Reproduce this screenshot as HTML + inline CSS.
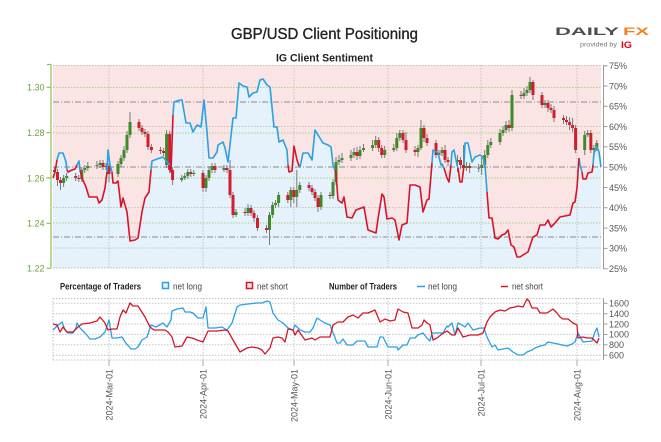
<!DOCTYPE html>
<html><head><meta charset="utf-8"><style>
html,body{margin:0;padding:0;background:#fff;}
svg{display:block;}
text{font-family:"Liberation Sans",Arial,sans-serif;}
</style></head><body>
<svg width="661" height="442" viewBox="0 0 661 442" xmlns="http://www.w3.org/2000/svg">
<rect width="661" height="442" fill="#fff"/>
<!-- titles -->
<text x="231" y="39" font-size="16" fill="#222" stroke="#222" stroke-width="0.35" textLength="187" lengthAdjust="spacingAndGlyphs">GBP/USD Client Positioning</text>
<text x="276" y="61.5" font-size="11" font-weight="bold" fill="#222" textLength="97" lengthAdjust="spacingAndGlyphs">IG Client Sentiment</text>
<!-- logo -->
<text x="555" y="35" font-size="11" font-weight="bold" fill="#4b4f54" textLength="64" lengthAdjust="spacingAndGlyphs">DAILY</text>
<text x="623" y="35" font-size="11" font-weight="bold" fill="#f58220" textLength="26" lengthAdjust="spacingAndGlyphs">FX</text>
<text x="580" y="46.5" font-size="6" fill="#777" textLength="37" lengthAdjust="spacingAndGlyphs">provided by</text>
<text x="621" y="48" font-size="9.5" font-weight="bold" fill="#e3001b" textLength="11" lengthAdjust="spacingAndGlyphs">IG</text>

<!-- main plot backgrounds -->
<rect x="53" y="65" width="548" height="203" fill="#fbe4e4"/>
<polygon fill="#e5f2fc" points="53,178 55,172 57,160 59,153 63,153 66,162 67,170 68,172 72,170 75,169 77,165 79,161 80,170 82,178 86,187 89,197 93,197 97,197 99,203 102,200 105,188 107,172 108,150 110,165 112,172 113,183 116,183 118,181 121,207 123,198 127,212 130,241 135,240 138,238 142,212 145,198 149,192 151,170 152,161 157,159 163,157 167,162 170,165 171,172 173,115 174,102 180,100 182,100 186,123 190,123 193,132 197,125 201,127 204,100 207,132 209,158 213,158 217,152 218,145 223,142 225,148 228,162 232,127 233,118 236,118 239,83 243,86 247,87 249,97 253,93 257,92 260,80 263,79 267,85 270,87 274,127 277,127 279,142 283,140 287,150 288,165 289,172 292,171 294,146 297,160 299,166 300,167 303,153 308,153 312,160 315,130 318,135 323,143 328,145 331,147 333,165 335,170 336,173 338,200 342,203 344,197 347,217 352,218 356,210 364,207 368,230 376,233 378,219 382,194 384,197 387,219 392,218 395,220 399,240 402,225 407,223 410,185 415,185 420,187 423,212 427,200 429,199 432,163 433,150 438,153 441,165 442,164 444,168 447,178 449,182 451,165 452,152 454,150 457,165 458,168 460,182 462,182 464,165 465,143 468,143 472,162 475,157 480,155 483,157 485,165 487,192 489,218 492,218 495,238 498,239 502,235 505,234 508,230 511,245 514,247 517,257 520,257 523,255 528,252 533,237 537,235 540,225 545,225 548,220 551,227 555,223 560,217 565,216 570,215 573,203 575,202 577,188 579,158 580,165 582,172 583,179 586,179 588,173 592,172 593,165 594,153 597,147 599,152 601,167 601,268 53,268"/>

<!-- main gridlines -->
<g fill="none" stroke-width="1">
<path d="M53 65.5H601M53 126.5H601M53 207.5H601M53 248H601" stroke="#c4c4c4" stroke-dasharray="1.5,1.5"/>
<path d="M53 87.5H601M53 133H601M53 178H601M53 223H601M53 268H601" stroke="#a9cf8c" stroke-dasharray="1.5,1.5"/>
<path d="M53 102H601M53 167H601M53 237H601" stroke="#8c8c8c" stroke-dasharray="6,2,1,2"/>
<path d="M109 65V268M203 65V268M294 65V268M388 65V268M481 65V268M577 65V268" stroke="#c4c4c4" stroke-dasharray="1.5,1.5"/>
</g>

<!-- candle wicks -->
<path fill="none" stroke="#7a7a7a" stroke-width="1" d="M54.5 167V175M57.5 169V186M60.5 177V190M63.6 175V187M66.6 173V181M75.7 173V181M78.8 175V182M81.8 167V182M84.8 165V173M87.8 162V171M96.9 161V169M100 160V168M103 160V170M106 163V170M109 163V182M118 161V177M121 155V167M124 146V161M127 131V153M130 112V138M139 119V131M142 125V135M145 129V137M148 131V150M151.4 144V153M160.5 147V154M163.6 148V156M166.6 130V168M169.6 131V173M172.6 167V185M181.7 175V182M184.7 173V180M187.8 169V179M190.8 169V177M193.8 170V176M203 170V192M206 175V192M209 166V181M212 163V173M215 163V173M224 165V172M227 165V173M230 160V198M233 192V218M236 209V217M245 208V216M248 204V216M251 205V216M254 210V222M257.5 215V231M266.5 225V233M269.5 212V245M272.6 202V218M275.6 200V208M278.6 192V207M287.8 192V203M290.8 187V207M293.8 187V203M296.8 170V207M299.8 182V193M309 182V191M312 185V195M315 189V201M318 195V212M321 192V210M330 192V199M333 179V199M336 157V185M339 155V165M342 153V163M351 150V161M354 148V158M357 147V160M360 146V159M363.5 144V152M372.6 140V151M375.7 136V148M378.7 137V152M381.7 145V158M384.7 146V158M393.8 144V152M396.8 133V151M399.8 130V141M403 130V143M406 132V153M415 146V156M418 145V157M421 120V150M424 125V142M427 134V146M436 140V158M439 150V158M442 147V156M445 145V163M448 157V166M457.5 155V172M460.5 157V169M463.5 145V171M466.5 162V171M469.6 163V173M478.7 164V172M481.7 157V175M484.7 150V168M487.8 140V158M490.8 138V148M500 129V145M503 126V136M506 121V133M509 120V132M512 90V131M521 91V99M524 88V99M527 86V96M530 77V93M533 80V100M542 92V108M545 100V108M548 100V112M551 104V113M554 106V122M563.5 115V124M566.5 116V125M569.6 117V130M572.6 118V132M575.6 125V153M584.7 131V155M587.7 130V137M590.8 130V153M593.8 145V157M596.8 140V151"/>
<!-- green bodies -->
<path fill="#3e8a2a" d="M62.1 178h3v5h-3zM65.1 176h3v2h-3zM80.3 170h3v9h-3zM83.3 168h3v2h-3zM86.3 166h3v2h-3zM95.4 165h3v1h-3zM98.5 163h3v2h-3zM104.5 166h3v1h-3zM116.5 164h3v10h-3zM119.5 158h3v6h-3zM122.5 150h3v8h-3zM125.5 135h3v15h-3zM128.5 122h3v13h-3zM165.1 134h3v31h-3zM180.2 178h3v2h-3zM183.2 176h3v2h-3zM186.3 172h3v4h-3zM192.3 173h3v1h-3zM204.5 178h3v10h-3zM207.5 170h3v8h-3zM210.5 166h3v4h-3zM222.5 168h3v2h-3zM234.5 212h3v3h-3zM246.5 208h3v5h-3zM268 215h3v15h-3zM271.1 205h3v10h-3zM274.1 203h3v2h-3zM277.1 195h3v8h-3zM289.3 190h3v10h-3zM295.3 190h3v7h-3zM298.3 185h3v5h-3zM319.5 195h3v12h-3zM331.5 182h3v14h-3zM334.5 162h3v20h-3zM337.5 160h3v2h-3zM340.5 158h3v2h-3zM349.5 155h3v3h-3zM352.5 152h3v3h-3zM358.5 150h3v6h-3zM362 148h3v2h-3zM371.1 145h3v3h-3zM374.2 140h3v5h-3zM383.2 150h3v5h-3zM392.3 148h3v2h-3zM395.3 138h3v10h-3zM398.3 133h3v5h-3zM416.5 148h3v4h-3zM419.5 128h3v20h-3zM437.5 153h3v2h-3zM440.5 150h3v3h-3zM456 160h3v2h-3zM465 166h3v2h-3zM480.2 165h3v3h-3zM483.2 155h3v10h-3zM486.3 145h3v10h-3zM489.3 142h3v3h-3zM498.5 133h3v9h-3zM501.5 130h3v3h-3zM504.5 125h3v5h-3zM510.5 95h3v33h-3zM522.5 93h3v3h-3zM525.5 90h3v3h-3zM528.5 82h3v8h-3zM543.5 103h3v2h-3zM583.2 135h3v15h-3zM586.2 133h3v2h-3zM592.3 148h3v2h-3zM595.3 143h3v5h-3z"/>
<rect x="477.2" y="167.5" width="3" height="1.2" fill="#777"/>
<!-- red bodies -->
<path fill="#cf1f2e" d="M53 170h3v2h-3zM56 172h3v8h-3zM59 180h3v3h-3zM74.2 176h3v2h-3zM77.3 178h3v1h-3zM101.5 163h3v4h-3zM107.5 166h3v8h-3zM137.5 122h3v6h-3zM140.5 128h3v4h-3zM143.5 132h3v2h-3zM146.5 134h3v13h-3zM149.9 147h3v3h-3zM159 150h3v1h-3zM162.1 151h3v2h-3zM168.1 134h3v36h-3zM171.1 170h3v10h-3zM189.3 172h3v2h-3zM201.5 173h3v15h-3zM213.5 166h3v4h-3zM225.5 168h3v2h-3zM228.5 170h3v25h-3zM231.5 195h3v20h-3zM243.5 212h3v1h-3zM249.5 208h3v5h-3zM252.5 213h3v5h-3zM256 218h3v10h-3zM265 228h3v2h-3zM286.3 195h3v5h-3zM292.3 190h3v7h-3zM307.5 185h3v3h-3zM310.5 188h3v4h-3zM313.5 192h3v6h-3zM316.5 198h3v9h-3zM328.5 195h3v1h-3zM355.5 152h3v4h-3zM377.2 140h3v8h-3zM380.2 148h3v7h-3zM401.5 133h3v7h-3zM404.5 140h3v10h-3zM413.5 150h3v2h-3zM422.5 128h3v10h-3zM425.5 138h3v5h-3zM434.5 143h3v12h-3zM443.5 150h3v10h-3zM446.5 160h3v2h-3zM459 160h3v5h-3zM462 165h3v3h-3zM468.1 166h3v2h-3zM507.5 125h3v3h-3zM519.5 95h3v1h-3zM531.5 82h3v13h-3zM540.5 95h3v10h-3zM546.5 103h3v5h-3zM549.5 108h3v2h-3zM552.5 110h3v8h-3zM562 118h3v2h-3zM565 120h3v2h-3zM568.1 122h3v3h-3zM571.1 125h3v3h-3zM574.1 128h3v22h-3zM589.3 133h3v17h-3z"/>

<!-- sentiment line -->
<path fill="none" stroke="#2ba0e2" stroke-width="1.6" stroke-linejoin="round" d="M57 160L59 153L63 153L66 162L67 170M77 165L79 161L80 170M107 172L108 150L110 165L112 172M151 170L152 161L157 159L163 157L167 162L170 165M173 115L174 102L180 100L182 100L186 123L190 123L193 132L197 125L201 127L204 100L207 132L209 158L213 158L217 152L218 145L223 142L225 148L228 162L232 127L233 118L236 118L239 83L243 86L247 87L249 97L253 93L257 92L260 80L263 79L267 85L270 87L274 127L277 127L279 142L283 140L287 150L288 165M299 166L300 167L303 153L308 153L312 160L315 130L318 135L323 143L328 145L331 147L333 165L335 170M432 163L433 150L438 153L441 165L442 164L444 168M451 165L452 152L454 150L457 165L458 168M464 165L465 143L468 143L472 162L475 157L480 155L483 157L485 165L487 192M579 158L580 165L582 172M593 165L594 153L597 147L599 152L601 167"/>
<path fill="none" stroke="#d6152b" stroke-width="1.6" stroke-linejoin="round" d="M53 178L55 172L57 160M67 170L68 172L72 170L75 169L77 165M80 170L82 178L86 187L89 197L93 197L97 197L99 203L102 200L105 188L107 172M112 172L113 183L116 183L118 181L121 207L123 198L127 212L130 241L135 240L138 238L142 212L145 198L149 192L151 170M170 165L171 172L173 115M288 165L289 172L292 171L294 146L297 160L299 166M335 170L336 173L338 200L342 203L344 197L347 217L352 218L356 210L364 207L368 230L376 233L378 219L382 194L384 197L387 219L392 218L395 220L399 240L402 225L407 223L410 185L415 185L420 187L423 212L427 200L429 199L432 163M444 168L447 178L449 182L451 165M458 168L460 182L462 182L464 165M487 192L489 218L492 218L495 238L498 239L502 235L505 234L508 230L511 245L514 247L517 257L520 257L523 255L528 252L533 237L537 235L540 225L545 225L548 220L551 227L555 223L560 217L565 216L570 215L573 203L575 202L577 188L579 158M582 172L583 179L586 179L588 173L592 172L593 165"/>

<!-- left axis -->
<g stroke="#8cc152" stroke-width="1.2" fill="none">
<path d="M51 64.5V268.3M47 64.5H51M46.5 87.3H51M46.5 132.7H51M46.5 178H51M46.5 223.3H51M46.5 268.3H51"/>
</g>
<g font-size="9" fill="#6aa339" text-anchor="end">
<text x="44.5" y="90.5">1.30</text>
<text x="44.5" y="136">1.28</text>
<text x="44.5" y="181.3">1.26</text>
<text x="44.5" y="226.6">1.24</text>
<text x="44.5" y="271.6">1.22</text>
</g>
<!-- right axis -->
<path fill="none" stroke="#9a9a9a" stroke-width="1" d="M603.5 65V268.7M603.5 65.7H607.5M603.5 86H607.5M603.5 106.3H607.5M603.5 126.6H607.5M603.5 146.9H607.5M603.5 167.2H607.5M603.5 187.5H607.5M603.5 207.8H607.5M603.5 228.1H607.5M603.5 248.4H607.5M603.5 268.7H607.5"/>
<g font-size="9" fill="#555">
<text x="609" y="69">75%</text>
<text x="609" y="89.3">70%</text>
<text x="609" y="109.6">65%</text>
<text x="609" y="129.9">60%</text>
<text x="609" y="150.2">55%</text>
<text x="609" y="170.5">50%</text>
<text x="609" y="190.8">45%</text>
<text x="609" y="211.1">40%</text>
<text x="609" y="231.4">35%</text>
<text x="609" y="251.7">30%</text>
<text x="609" y="272">25%</text>
</g>

<!-- legend -->
<text x="60" y="289.5" font-size="9.5" font-weight="bold" fill="#222" textLength="81" lengthAdjust="spacingAndGlyphs">Percentage of Traders</text>
<rect x="162.5" y="282.5" width="6" height="6" fill="#e5f2fc" stroke="#2ba0e2" stroke-width="1.5"/>
<text x="173" y="289.5" font-size="9.5" fill="#444" textLength="29" lengthAdjust="spacingAndGlyphs">net long</text>
<rect x="246.5" y="282.5" width="6" height="6" fill="#fbe4e4" stroke="#d6152b" stroke-width="1.5"/>
<text x="257" y="289.5" font-size="9.5" fill="#444" textLength="31" lengthAdjust="spacingAndGlyphs">net short</text>
<text x="329" y="289.5" font-size="9.5" font-weight="bold" fill="#222" textLength="68" lengthAdjust="spacingAndGlyphs">Number of Traders</text>
<path d="M417 286.5H425" stroke="#2ba0e2" stroke-width="1.5"/>
<text x="428" y="289.5" font-size="9.5" fill="#444" textLength="29" lengthAdjust="spacingAndGlyphs">net long</text>
<path d="M501 286.5H508" stroke="#d6152b" stroke-width="1.5"/>
<text x="512" y="289.5" font-size="9.5" fill="#444" textLength="31" lengthAdjust="spacingAndGlyphs">net short</text>

<!-- bottom chart grid -->
<g fill="none" stroke="#c4c4c4" stroke-width="1" stroke-dasharray="1.5,1.5">
<path d="M53 298.5H601M53 303.3H601M53 313.7H601M53 324H601M53 334.4H601M53 344.8H601M53 355.2H601M53 360H601"/>
<path d="M53 298V360M109 298V360M203 298V360M294 298V360M388 298V360M481 298V360M577 298V360"/>
</g>
<path fill="none" stroke="#2ba0e2" stroke-width="1.3" stroke-linejoin="round" d="M53 330L57 326L62 322L65 330L68 333L73 333L76 328L77 323L80 328L85 333L90 339L95 339L100 337L105 332L109 320L112 338L117 338L122 337L125 342L131 349L135 349L138 347L142 340L147 337L151 325L156 327L163 323L167 327L171 320L172 311L177 309L183 308L185 312L190 312L193 313L198 318L203 318L206 307L208 328L215 328L222 327L227 330L232 323L237 307L240 305L248 304L257 303L262 303L267 301L270 302L273 313L278 320L283 323L288 328L293 330L295 325L300 330L305 332L310 332L313 328L317 318L320 320L325 323L330 325L334 335L337 343L340 343L343 339L347 345L353 345L357 341L365 341L368 347L377 347L380 337L383 337L388 347L397 347L398 350L403 345L407 345L410 338L415 338L418 335L423 333L427 338L430 341L432 333L437 333L443 333L447 326L448 327L452 323L455 335L458 323L462 325L465 327L468 323L473 330L480 328L484 328L487 337L492 347L495 345L498 350L503 349L508 348L513 352L518 355L523 355L527 352L532 350L535 348L540 346L545 345L548 342L553 343L558 344L567 346L572 344L575 342L578 333L583 342L592 341L595 332L597 328L599 337"/>
<path fill="none" stroke="#d6152b" stroke-width="1.3" stroke-linejoin="round" d="M53 324L57 325L60 332L63 327L67 332L73 332L78 327L82 324L90 323L97 321L100 317L105 323L108 330L112 329L117 329L120 317L123 310L126 313L130 303L133 306L138 306L145 317L150 327L154 330L165 330L168 332L172 337L175 347L182 346L187 337L192 338L197 340L203 342L208 331L217 331L225 330L228 331L233 340L240 352L247 348L252 347L258 348L262 350L265 354L270 348L273 338L278 337L282 338L285 342L288 329L293 330L295 335L298 330L305 340L312 338L315 340L320 337L330 337L333 325L338 322L343 322L348 317L353 315L358 318L363 313L368 313L375 310L380 322L385 319L390 321L395 320L398 309L403 312L408 313L412 328L418 328L422 325L424 320L427 323L430 325L433 340L437 338L442 334L447 331L452 335L455 335L458 328L463 337L470 335L478 335L483 333L487 322L490 317L495 312L500 310L505 311L510 308L515 307L518 306L523 307L527 299L529 301L532 308L537 308L540 313L547 313L553 309L557 313L560 317L563 319L568 319L573 323L577 325L578 338L583 337L587 338L592 338L597 343L599 338"/>
<!-- bottom right axis -->
<path fill="none" stroke="#9a9a9a" stroke-width="1" d="M603.5 298V360M603.5 303.3H607.5M603.5 313.7H607.5M603.5 324H607.5M603.5 334.4H607.5M603.5 344.8H607.5M603.5 355.2H607.5"/>
<g font-size="9" fill="#555">
<text x="609" y="306.5">1600</text>
<text x="609" y="317">1400</text>
<text x="609" y="327.3">1200</text>
<text x="609" y="337.7">1000</text>
<text x="609" y="348">800</text>
<text x="609" y="358.4">600</text>
</g>
<!-- date ticks -->
<path fill="none" stroke="#aaa" stroke-width="1" d="M109 360V366M203 360V366M294 360V366M388 360V366M481 360V366M577 360V366"/>
<g font-size="9" fill="#555" text-anchor="end">
<text x="112.3" y="369" transform="rotate(-90 112.3 369)">2024-Mar-01</text>
<text x="206.3" y="369" transform="rotate(-90 206.3 369)">2024-Apr-01</text>
<text x="297.3" y="369" transform="rotate(-90 297.3 369)">2024-May-01</text>
<text x="391.3" y="369" transform="rotate(-90 391.3 369)">2024-Jun-01</text>
<text x="484.3" y="369" transform="rotate(-90 484.3 369)">2024-Jul-01</text>
<text x="580.3" y="369" transform="rotate(-90 580.3 369)">2024-Aug-01</text>
</g>
</svg>
</body></html>
